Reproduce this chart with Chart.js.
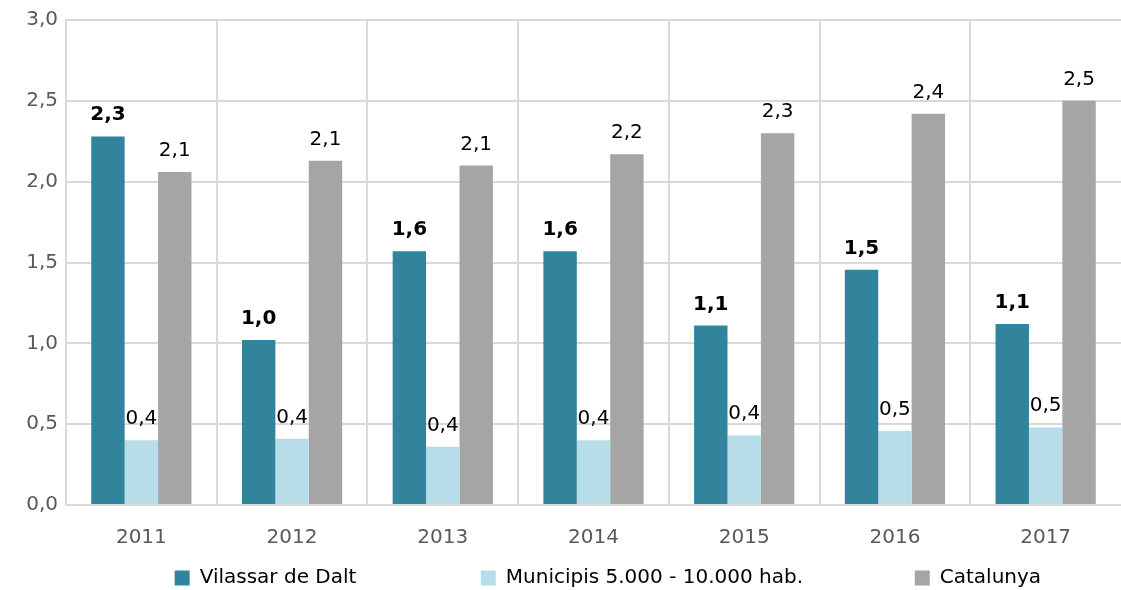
<!DOCTYPE html>
<html>
<head>
<meta charset="utf-8">
<script src="https://cdn.jsdelivr.net/npm/chart.js@4"></script>
<style>
  html, body { margin: 0; padding: 0; background: #fff; }
  #wrap { width: 1121px; height: 590px; }
</style>
</head>
<body>
<div id="wrap"><canvas id="chart"></canvas></div>
<script>
const years = ["2011", "2012", "2013", "2014", "2015", "2016", "2017"];
const vilassar = [2.28, 1.02, 1.57, 1.57, 1.11, 1.455, 1.12];
const municipis = [0.40, 0.41, 0.36, 0.40, 0.43, 0.46, 0.48];
const catalunya = [2.06, 2.13, 2.10, 2.17, 2.30, 2.42, 2.50];
const series_names = ["Vilassar de Dalt", "Municipis 5.000 - 10.000 hab.", "Catalunya"];

const FONT = "'DejaVu Sans', Verdana, sans-serif";
const grid_color = "#D9D9D9";

function fmt(v){
    return v.toFixed(1).replace(".", ",");
}

// draws the value above each bar, bold for the first series
const barLabels = {
    id: "barLabels",
    afterDatasetsDraw(chart){
        const ctx = chart.ctx;
        ctx.save();
        ctx.textAlign = "center";
        ctx.textBaseline = "alphabetic";
        ctx.fillStyle = "#000";
        chart.data.datasets.forEach((ds, i) => {
            const meta = chart.getDatasetMeta(i);
            ctx.font = (i === 0 ? "bold " : "") + "20px " + FONT;
            meta.data.forEach((bar, j) => {
                ctx.fillText(fmt(ds.data[j]), bar.x, bar.y - 16);
            });
        });
        ctx.restore();
    }
};

// extra spacing after each legend entry, like the original
const legend_gaps = [18, 16, 11];

new Chart(document.getElementById("chart"), {
    type: "bar",
    data: {
        labels: years,
        datasets: [
            { label: series_names[0], data: vilassar, backgroundColor: "#31849B" },
            { label: series_names[1], data: municipis, backgroundColor: "#B7DEE8" },
            { label: series_names[2], data: catalunya, backgroundColor: "#A5A5A5" }
        ]
    },
    options: {
        responsive: true,
        maintainAspectRatio: false,
        animation: false,
        layout: { padding: { top: 20, left: 0, right: 0, bottom: -8 } },
        datasets: {
            bar: { categoryPercentage: 0.665, barPercentage: 1.0 }
        },
        plugins: {
            tooltip: { enabled: false },
            legend: {
                position: "bottom",
                align: "end",
                labels: {
                    font: { family: FONT, size: 20 },
                    color: "#000",
                    boxWidth: 15,
                    boxHeight: 15,
                    padding: 10,
                    generateLabels(chart){
                        return chart.data.datasets.map((ds, i) => ({
                            text: ds.label + "\u00a0".repeat(legend_gaps[i]),
                            fillStyle: ds.backgroundColor,
                            strokeStyle: ds.backgroundColor,
                            lineWidth: 0,
                            hidden: false,
                            datasetIndex: i
                        }));
                    }
                }
            }
        },
        scales: {
            x: {
                grid: {
                    // no line on the far right edge
                    color: (c) => c.tick ? grid_color : "rgba(0,0,0,0)",
                    lineWidth: 2,
                    drawTicks: false,
                    offset: true
                },
                border: { color: grid_color, width: 2 },
                ticks: { font: { family: FONT, size: 20 }, color: "#595959", padding: 21 },
                afterFit(scale){ scale.height = 53; }
            },
            y: {
                min: 0,
                max: 3,
                grid: { color: grid_color, lineWidth: 2, drawTicks: false },
                border: { color: grid_color, width: 2 },
                ticks: {
                    stepSize: 0.5,
                    font: { family: FONT, size: 20 },
                    color: "#595959",
                    padding: 8,
                    callback: (v) => fmt(v)
                },
                afterFit(scale){ scale.width = 66; }
            }
        }
    },
    plugins: [barLabels]
});
</script>
</body>
</html>
